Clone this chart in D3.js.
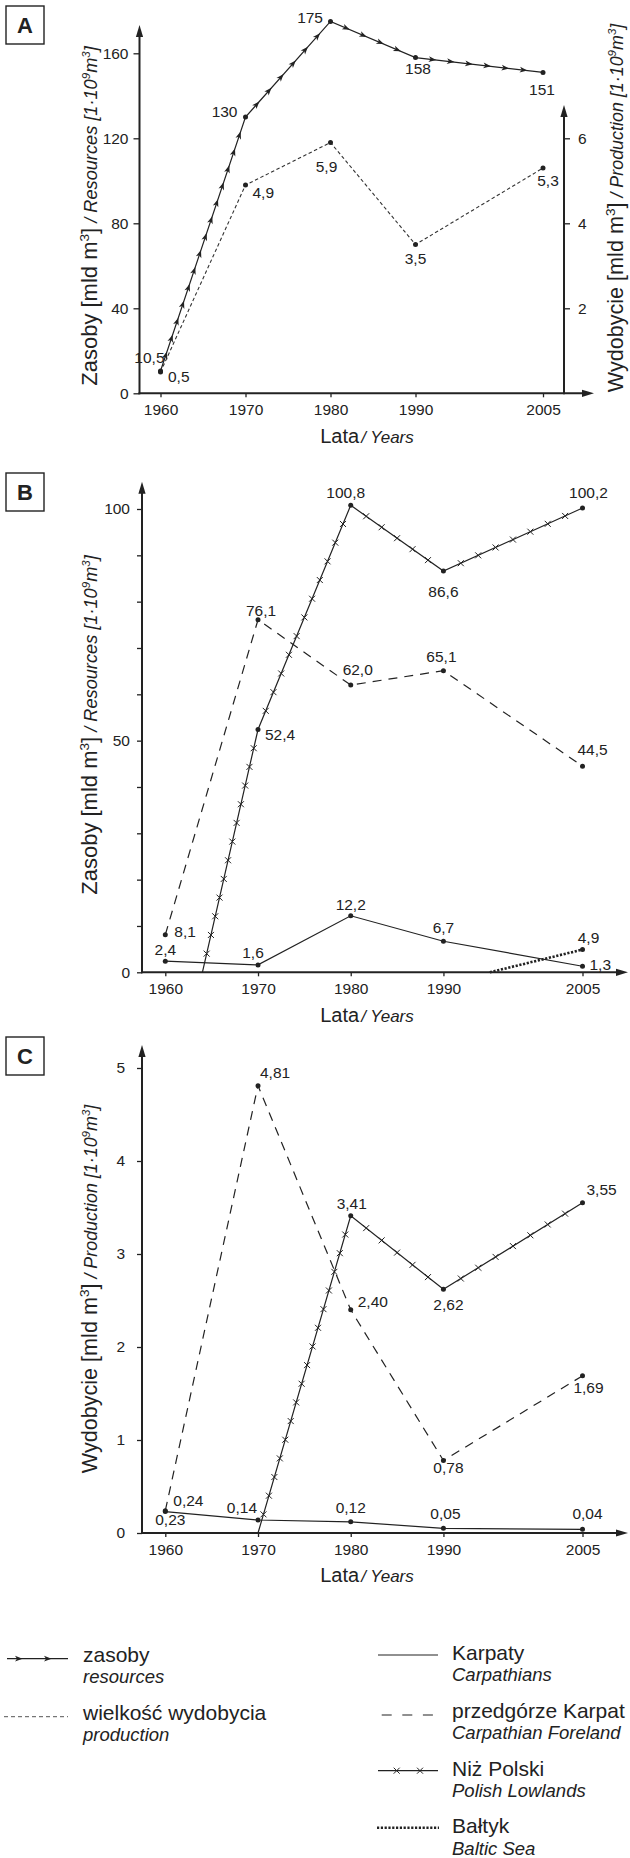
<!DOCTYPE html>
<html><head><meta charset="utf-8">
<script src="https://cdn.jsdelivr.net/npm/d3@7"></script>
<style>
html,body{margin:0;padding:0;background:#fff;}
svg{display:block;font-family:"Liberation Sans",Arial,sans-serif;}
</style></head><body>
<svg id="chart" width="630" height="1858"></svg>
<script>
// ---------- DATA ----------
const years = [1960, 1970, 1980, 1990, 2005];
const xTickLabels = ["1960", "1970", "1980", "1990", "2005"];

// Panel A
const aResources = [10.5, 130, 175, 158, 151];
const aProduction = [0.5, 4.9, 5.9, 3.5, 5.3];
const aLeftTicks = [0, 40, 80, 120, 160];
const aRightTicks = [2, 4, 6];

// Panel B (resources)
const bKarpaty = [2.4, 1.6, 12.2, 6.7, 1.3];
const bPrzedgorze = [8.1, 76.1, 62.0, 65.1, 44.5];
const bNizYears = [1964, 1970, 1980, 1990, 2005];
const bNiz = [0, 52.4, 100.8, 86.6, 100.2];
const bBaltykYears = [1995, 2005];
const bBaltyk = [0, 4.9];
const bTicks = [0, 10, 20, 30, 40, 50, 60, 70, 80, 90, 100];
const bTickLabels = [0, 50, 100];

// Panel C (production)
const cKarpaty = [0.23, 0.14, 0.12, 0.05, 0.04];
const cPrzedgorze = [0.24, 4.81, 2.40, 0.78, 1.69];
const cNizYears = [1970, 1980, 1990, 2005];
const cNiz = [0, 3.41, 2.62, 3.55];
const cTicks = [0, 1, 2, 3, 4, 5];

// ---------- LAYOUT (label offsets: dx, dy, anchor) ----------
const aResLab = [[4,-8,'end'],[-8,0,'end'],[-7.5,2,'end'],[2.5,16,'middle'],[-1,22.5,'middle']];
const aProdLab = [[7.5,10,'start'],[7,13,'start'],[-4,29,'middle'],[0,19,'middle'],[5,18,'middle']];
const bKarLab = [[0,-6,'middle'],[-5,-7,'middle'],[0,-6,'middle'],[0,-8,'middle'],[7,4,'start']];
const bPrzLab = [[9,2,'start'],[3,-4,'middle'],[7,-10,'middle'],[-2,-9,'middle'],[10,-11,'middle']];
const bNizLab = [null,[7,10,'start'],[-5,-7,'middle'],[0,26,'middle'],[6,-10,'middle']];
const bBalLab = [null,[6,-7,'middle']];
const cKarLab = [[5,13,'middle'],[-1,-7,'end'],[0,-9,'middle'],[2,-9,'middle'],[5,-10,'middle']];
const cPrzLab = [[8,-5,'start'],[2,-8,'start'],[7,-3,'start'],[5,13,'middle'],[6,17,'middle']];
const cNizLab = [null,[1,-7,'middle'],[5,21,'middle'],[4,-8,'start']];

const INK = '#222';
const svg = d3.select('#chart');

function fmt(v, dec) { return (dec == null ? String(v) : v.toFixed(dec)).replace('.', ','); }

function arrowUp(g, x, tipY) {
  g.append('path').attr('d', `M${x},${tipY} L${x-3.6},${tipY+12} L${x+3.6},${tipY+12} Z`).attr('fill', INK);
}
function arrowRight(g, tipX, y) {
  g.append('path').attr('d', `M${tipX},${y} L${tipX-12},${y-3.6} L${tipX-12},${y+3.6} Z`).attr('fill', INK);
}

function styleAxis(sel, size) {
  sel.attr('font-family', '"Liberation Sans",Arial,sans-serif').attr('font-size', size);
  sel.select('.domain').remove();
  sel.selectAll('.tick line').attr('stroke', INK).attr('stroke-width', 1.3);
  sel.selectAll('.tick text').attr('fill', INK);
}

function panelBox(letter, y) {
  svg.append('rect').attr('x', 6).attr('y', y).attr('width', 38).attr('height', 38)
    .attr('fill', 'none').attr('stroke', INK).attr('stroke-width', 1.4);
  svg.append('text').attr('x', 25).attr('y', y + 27).attr('text-anchor', 'middle')
    .attr('font-size', 22).attr('font-weight', 'bold').attr('fill', INK).text(letter);
}

function xTitle(cx, baseline) {
  const t = svg.append('text').attr('x', cx).attr('y', baseline).attr('text-anchor', 'middle').attr('fill', INK);
  t.append('tspan').attr('font-size', 20).text('Lata');
  t.append('tspan').attr('font-size', 17).attr('font-style', 'italic').attr('dx', 2).text('/ Years');
}

function yTitle(x, cy, chunks) {
  const t = svg.append('text').attr('transform', `translate(${x},${cy}) rotate(-90)`)
    .attr('text-anchor', 'middle').attr('fill', INK);
  let shift = 0;
  chunks.forEach(c => {
    const ts = t.append('tspan').attr('font-size', c.s).text(c.t);
    if (c.i) ts.attr('font-style', 'italic');
    const target = c.sup ? -c.sup : 0;
    if (target !== shift) { ts.attr('dy', target - shift); shift = target; }
  });
}
const resTitle = [
  {t:'Zasoby [mld m', s:22}, {t:'3', s:13.5, sup:8.5}, {t:']', s:22},
  {t:' / Resources [1·10', s:18.2, i:true}, {t:'9', s:11.5, i:true, sup:7.5},
  {t:'m', s:18.2, i:true}, {t:'3', s:11.5, i:true, sup:7.5}, {t:']', s:18.2, i:true}
];
const prodTitle = [
  {t:'Wydobycie [mld m', s:21.6}, {t:'3', s:13.5, sup:8.5}, {t:']', s:21.6},
  {t:' / Production [1·10', s:17.9, i:true}, {t:'9', s:11.5, i:true, sup:7.5},
  {t:'m', s:17.9, i:true}, {t:'3', s:11.5, i:true, sup:7.5}, {t:']', s:17.9, i:true}
];

function alongMarkers(pts, spacing) {
  const out = [];
  for (let k = 0; k < pts.length - 1; k++) {
    const [x1, y1] = pts[k], [x2, y2] = pts[k+1];
    const len = Math.hypot(x2 - x1, y2 - y1);
    const n = Math.max(1, Math.round(len / spacing));
    const ang = Math.atan2(y2 - y1, x2 - x1) * 180 / Math.PI;
    for (let i = 1; i < n; i++) out.push([x1 + (x2 - x1) * i / n, y1 + (y2 - y1) * i / n, ang]);
  }
  return out;
}

const ARROW = 'M-5,-2.9 L2.6,0 L-5,2.9 L-3,0 Z';
const CROSS = 'M-3,-3 L3,3 M-3,3 L3,-3';

function series(g, xs, vals, x, y, opts) {
  const pts = xs.map((d, i) => [x(d), y(vals[i])]);
  const path = g.append('path').attr('d', d3.line()(pts)).attr('fill', 'none')
    .attr('stroke', opts.color || INK).attr('stroke-width', opts.width || 1.2);
  if (opts.dash) path.attr('stroke-dasharray', opts.dash);
  if (opts.marker === 'arrow') {
    alongMarkers(pts, 18).forEach(m => g.append('path').attr('d', ARROW)
      .attr('transform', `translate(${m[0]},${m[1]}) rotate(${m[2]})`).attr('fill', INK));
  }
  if (opts.marker === 'cross') {
    alongMarkers(pts, 19.5).forEach(m => g.append('path').attr('d', CROSS)
      .attr('transform', `translate(${m[0]},${m[1]})`).attr('stroke', INK).attr('stroke-width', 1).attr('fill', 'none'));
  }
  pts.forEach((p, i) => {
    const lab = opts.labels[i];
    if (!lab) return;
    g.append('circle').attr('cx', p[0]).attr('cy', p[1]).attr('r', 2.5).attr('fill', INK);
    g.append('text').attr('x', p[0] + lab[0]).attr('y', p[1] + lab[1]).attr('text-anchor', lab[2])
      .attr('font-size', 15.5).attr('fill', INK).text(fmt(vals[i], opts.dec));
  });
}

// ================= PANEL A =================
(function () {
  const g = svg.append('g');
  const x = d3.scaleLinear().domain([1960, 2005]).range([160.5, 543]);
  const yL = d3.scaleLinear().domain([0, 160]).range([393.3, 53.3]);
  const yR = d3.scaleLinear().domain([0, 6]).range([393.3, 138.3]);
  const ax = 139.5, rx = 564, y0 = yL(0);
  panelBox('A', 6);

  g.append('g').attr('transform', `translate(${ax},0)`)
    .call(d3.axisLeft(yL).tickValues(aLeftTicks).tickSize(6).tickPadding(5).tickFormat(d3.format('d')))
    .call(s => styleAxis(s, 15.5));
  g.append('g').attr('transform', `translate(${rx},0)`)
    .call(d3.axisRight(yR).tickValues(aRightTicks).tickSize(6).tickPadding(8).tickFormat(d3.format('d')))
    .call(s => styleAxis(s, 15.5));
  g.append('g').attr('transform', `translate(0,${y0})`)
    .call(d3.axisBottom(x).tickValues(years).tickFormat((d, i) => xTickLabels[i]).tickSize(4).tickPadding(7))
    .call(s => styleAxis(s, 15.5));
  g.append('line').attr('x1', ax).attr('x2', ax).attr('y1', y0 + 1).attr('y2', 36).attr('stroke', INK).attr('stroke-width', 2);
  arrowUp(g, ax, 25);
  g.append('line').attr('x1', rx).attr('x2', rx).attr('y1', y0 + 1).attr('y2', 116).attr('stroke', INK).attr('stroke-width', 2);
  arrowUp(g, rx, 105);
  g.append('line').attr('x1', ax - 1).attr('x2', 583).attr('y1', y0).attr('y2', y0).attr('stroke', INK).attr('stroke-width', 2);
  arrowRight(g, 594, y0);

  series(g, years, aProduction, x, yR, {dash: '3.5,2.5', width: 1.1, color: '#333', labels: aProdLab});
  series(g, years, aResources, x, yL, {marker: 'arrow', labels: aResLab});

  xTitle(367, y0 + 49.4);
  yTitle(97, 216, resTitle);
  yTitle(623, 208, prodTitle);
})();

// ================= PANEL B =================
(function () {
  const g = svg.append('g');
  const x = d3.scaleLinear().domain([1960, 2005]).range([165.3, 582.5]);
  const y = d3.scaleLinear().domain([0, 100]).range([972.3, 509]);
  const ax = 142, y0 = y(0);
  panelBox('B', 473);

  g.append('g').attr('transform', `translate(${ax},0)`)
    .call(d3.axisLeft(y).tickValues(bTicks).tickSize(5).tickPadding(7)
      .tickFormat(d => bTickLabels.includes(d) ? String(d) : ''))
    .call(s => styleAxis(s, 15.5));
  g.append('g').attr('transform', `translate(0,${y0})`)
    .call(d3.axisBottom(x).tickValues(years).tickFormat((d, i) => xTickLabels[i]).tickSize(4).tickPadding(7))
    .call(s => styleAxis(s, 15.5));
  g.append('line').attr('x1', ax).attr('x2', ax).attr('y1', y0 + 1).attr('y2', 493).attr('stroke', INK).attr('stroke-width', 2);
  arrowUp(g, ax, 481.7);
  g.append('line').attr('x1', ax - 1).attr('x2', 617).attr('y1', y0).attr('y2', y0).attr('stroke', INK).attr('stroke-width', 2);
  arrowRight(g, 628, y0);

  series(g, years, bPrzedgorze, x, y, {dash: '9,7', labels: bPrzLab, dec: 1});
  series(g, bNizYears, bNiz, x, y, {marker: 'cross', labels: bNizLab, dec: 1});
  series(g, years, bKarpaty, x, y, {labels: bKarLab, dec: 1});
  series(g, bBaltykYears, bBaltyk, x, y, {dash: '2.2,1.6', width: 2.6, labels: bBalLab, dec: 1});

  xTitle(367, y0 + 49.4);
  yTitle(97, 725, resTitle);
})();

// ================= PANEL C =================
(function () {
  const g = svg.append('g');
  const x = d3.scaleLinear().domain([1960, 2005]).range([165.3, 582.5]);
  const y = d3.scaleLinear().domain([0, 5]).range([1533, 1068]);
  const ax = 142, y0 = y(0);
  panelBox('C', 1037);

  g.append('g').attr('transform', `translate(${ax},0)`)
    .call(d3.axisLeft(y).tickValues(cTicks).tickSize(5).tickPadding(12).tickFormat(d3.format('d')))
    .call(s => styleAxis(s, 15.5));
  g.append('g').attr('transform', `translate(0,${y0})`)
    .call(d3.axisBottom(x).tickValues(years).tickFormat((d, i) => xTickLabels[i]).tickSize(4).tickPadding(7))
    .call(s => styleAxis(s, 15.5));
  g.append('line').attr('x1', ax).attr('x2', ax).attr('y1', y0 + 1).attr('y2', 1056).attr('stroke', INK).attr('stroke-width', 2);
  arrowUp(g, ax, 1045);
  g.append('line').attr('x1', ax - 1).attr('x2', 617).attr('y1', y0).attr('y2', y0).attr('stroke', INK).attr('stroke-width', 2);
  arrowRight(g, 628, y0);

  series(g, years, cPrzedgorze, x, y, {dash: '9,7', labels: cPrzLab, dec: 2});
  series(g, cNizYears, cNiz, x, y, {marker: 'cross', labels: cNizLab, dec: 2});
  series(g, years, cKarpaty, x, y, {labels: cKarLab, dec: 2});

  xTitle(367, y0 + 48.7);
  yTitle(97, 1289, prodTitle);
})();

// ================= LEGEND =================
(function () {
  const g = svg.append('g');
  function txt(xp, yp, s, size, it) {
    const t = g.append('text').attr('x', xp).attr('y', yp).attr('font-size', size).attr('fill', INK).text(s);
    if (it) t.attr('font-style', 'italic');
  }
  function ln(x1, x2, yy, opts) {
    const l = g.append('line').attr('x1', x1).attr('x2', x2).attr('y1', yy).attr('y2', yy)
      .attr('stroke', opts.color || INK).attr('stroke-width', opts.width || 1.2);
    if (opts.dash) l.attr('stroke-dasharray', opts.dash);
  }
  // left column
  ln(7, 68, 1658.7, {});
  [20, 49].forEach(ax => g.append('path').attr('d', ARROW).attr('transform', `translate(${ax},1658.7)`).attr('fill', INK));
  txt(83, 1661.5, 'zasoby', 21); txt(83, 1683, 'resources', 18.5, true);
  ln(4, 68, 1716.7, {dash: '4,3', width: 1, color: '#555'});
  txt(83, 1720, 'wielkość wydobycia', 21); txt(83, 1741, 'production', 18.5, true);
  // right column
  ln(378, 438, 1655, {});
  txt(452, 1660, 'Karpaty', 21); txt(452, 1681, 'Carpathians', 18.5, true);
  ln(381.7, 433, 1715, {dash: '10,10.6'});
  txt(452, 1718.3, 'przedgórze Karpat', 21); txt(452, 1738.5, 'Carpathian Foreland', 18.5, true);
  ln(378, 438, 1770.7, {});
  [396.7, 420].forEach(cx => g.append('path').attr('d', CROSS).attr('transform', `translate(${cx},1770.7)`)
    .attr('stroke', INK).attr('stroke-width', 1).attr('fill', 'none'));
  txt(452, 1775.5, 'Niż Polski', 21); txt(452, 1797, 'Polish Lowlands', 18.5, true);
  ln(377, 439, 1827.7, {dash: '2.2,1.6', width: 2.6});
  txt(452, 1833.3, 'Bałtyk', 21); txt(452, 1855, 'Baltic Sea', 18.5, true);
})();
</script>
</body></html>
